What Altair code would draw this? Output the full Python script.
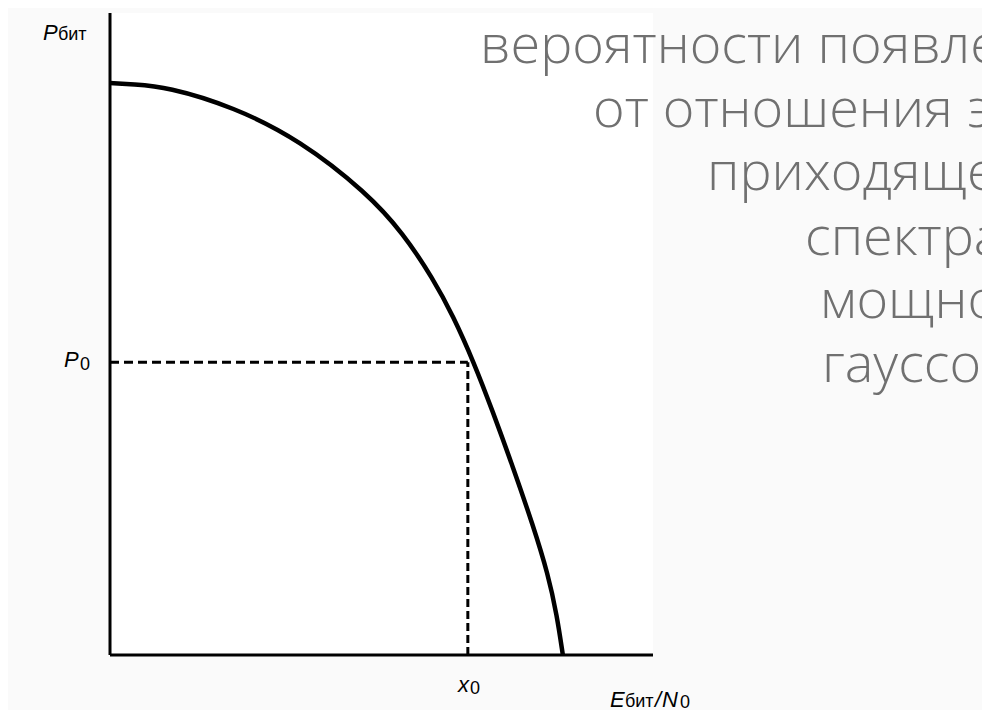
import altair as alt
import pandas as pd

# Curve: P_bit as a function of E_bit/N0 (arbitrary units, axes span 0..10)
ebit_n0 = [0.00, 0.42, 1.05, 2.27, 3.50, 4.73, 5.40, 5.95, 6.32, 6.70, 7.05, 7.42, 7.79, 8.07, 8.23, 8.34]
p_bit = [8.91, 8.89, 8.85, 8.54, 8.02, 7.20, 6.57, 5.86, 5.28, 4.56, 3.79, 2.93, 2.02, 1.25, 0.62, 0.00]
x0_val = [6.59]
p0_val = [4.56]
axis_max = [10.0]

title_lines = [
    "вероятности появления ошибочного",
    "от отношения энергии бита",
    "приходящего сигнала к",
    "спектральной плотности",
    "мощности",
    "гауссова шума",
]

xs = alt.Scale(domain=[0, 10], nice=False, zero=False)
ys = alt.Scale(domain=[0, 10], nice=False, zero=False)

curve_df = pd.DataFrame({"x": ebit_n0, "y": p_bit})
curve = alt.Chart(curve_df).mark_line(
    color="black", strokeWidth=4.5, interpolate="basis"
).encode(
    x=alt.X("x:Q", scale=xs, axis=None),
    y=alt.Y("y:Q", scale=ys, axis=None),
)

ax_df = pd.DataFrame({"zero": [0.0], "top": axis_max, "x0": x0_val, "p0": p0_val})

y_axis = alt.Chart(ax_df).mark_rule(color="black", strokeWidth=3).encode(
    x=alt.X("zero:Q", scale=xs, axis=None), y=alt.Y("zero:Q", scale=ys, axis=None), y2="top:Q"
)
x_axis = alt.Chart(ax_df).mark_rule(color="black", strokeWidth=3).encode(
    y=alt.Y("zero:Q", scale=ys, axis=None), x=alt.X("zero:Q", scale=xs, axis=None), x2="top:Q"
)
h_dash = alt.Chart(ax_df).mark_rule(color="black", strokeWidth=3, strokeDash=[9, 5]).encode(
    y=alt.Y("p0:Q", scale=ys, axis=None), x=alt.X("zero:Q", scale=xs, axis=None), x2="x0:Q"
)
v_dash = alt.Chart(ax_df).mark_rule(color="black", strokeWidth=3, strokeDash=[8, 4]).encode(
    x=alt.X("x0:Q", scale=xs, axis=None), y=alt.Y("zero:Q", scale=ys, axis=None), y2="p0:Q"
)

PX_X = 54.3  # pixels per x unit
PX_Y = 64.2  # pixels per y unit


def label(txt, dx, dy, size, italic=False, font="Liberation Sans", color="black", weight=400):
    """dx, dy: pixel offset from the plot's top-left corner, converted to data units."""
    df = pd.DataFrame({"t": [txt], "lx": [dx / PX_X], "ly": [10 - dy / PX_Y]})
    return alt.Chart(df).mark_text(
        align="left", baseline="alphabetic", font=font, fontSize=size,
        fontStyle="italic" if italic else "normal", color=color, fontWeight=weight,
    ).encode(
        x=alt.X("lx:Q", scale=xs, axis=None),
        y=alt.Y("ly:Q", scale=ys, axis=None),
        text="t:N",
    )


labels = [
    label("P", -67, 27, 22, True),
    label("бит", -52, 27, 18),
    label("P", -46, 354, 22, True),
    label("0", -30, 357, 18),
    label("x", 348, 679, 22, True),
    label("0", 360, 681, 18),
    label("E", 500, 694, 22, True),
    label("бит", 515, 694, 18),
    label("/", 545, 694, 22, True),
    label("N", 552, 694, 22, True),
    label("0", 570, 695, 18),
]

title_x = [370, 483, 597, 695, 710, 712]
title_y = [50, 114, 177, 242, 305, 369]
titles = [
    label(t, tx, ty, 54, False, font="Open Sans", color="#707070", weight=300)
    for t, tx, ty in zip(title_lines, title_x, title_y)
]

chart = alt.layer(curve, y_axis, x_axis, h_dash, v_dash, *titles, *labels).properties(
    width=543,
    height=642,
    background="#fafafa",
    padding={"left": 102, "top": 5, "right": 329, "bottom": 55},
    autosize=alt.AutoSizeParams(type="none"),
).configure_view(stroke=None, fill="white")

chart.save("out.html", embed_options={"renderer": "svg", "actions": False})
